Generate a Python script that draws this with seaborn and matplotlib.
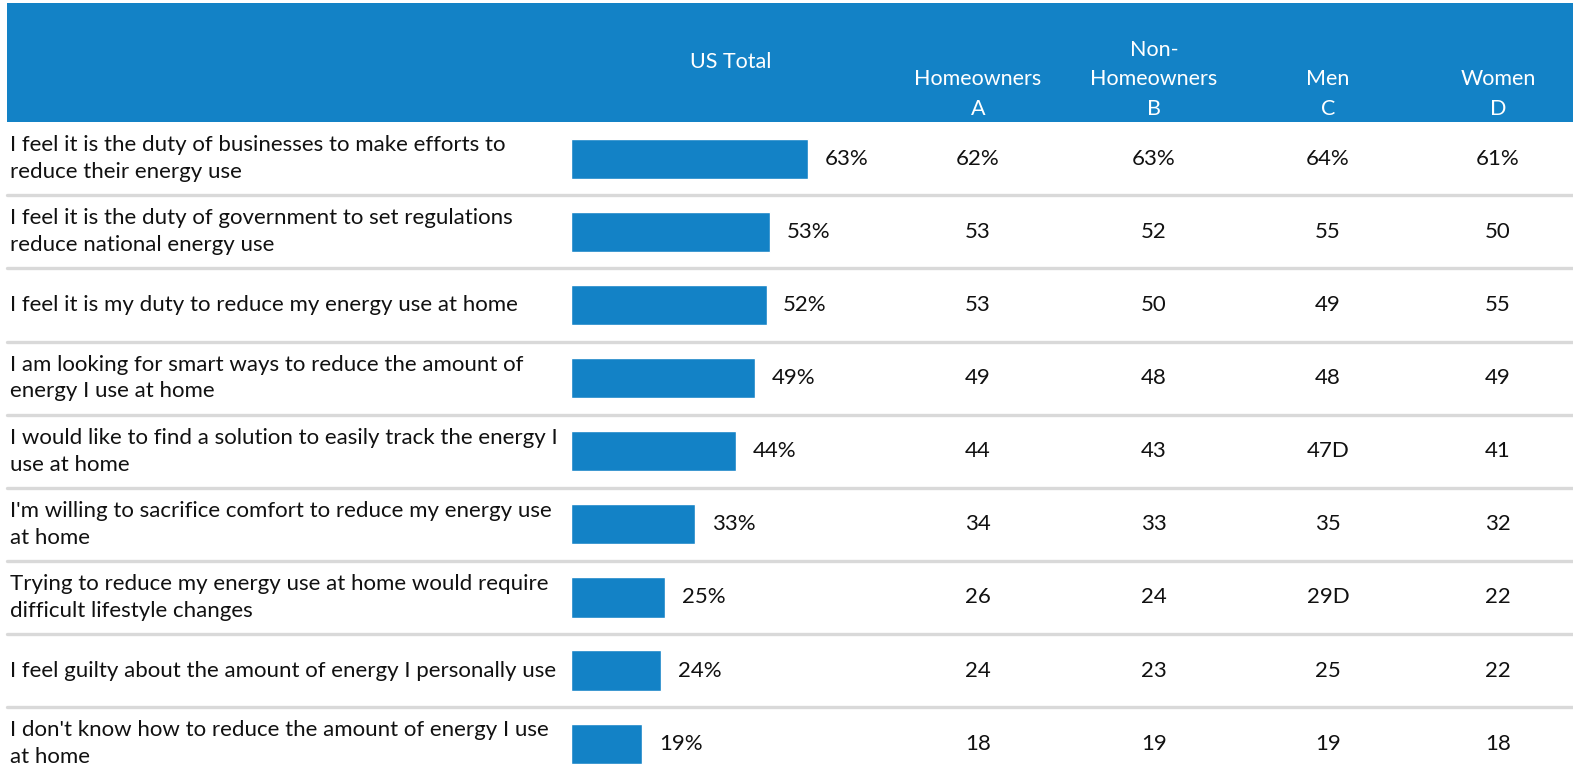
import numpy as np
import pandas as pd
import matplotlib
matplotlib.use("Agg")
import matplotlib.pyplot as plt
from matplotlib.patches import Rectangle
import seaborn as sns

statements = [
    "I feel it is the duty of businesses to make efforts to\nreduce their energy use",
    "I feel it is the duty of government to set regulations\nreduce national energy use",
    "I feel it is my duty to reduce my energy use at home",
    "I am looking for smart ways to reduce the amount of\nenergy I use at home",
    "I would like to find a solution to easily track the energy I\nuse at home",
    "I'm willing to sacrifice comfort to reduce my energy use\nat home",
    "Trying to reduce my energy use at home would require\ndifficult lifestyle changes",
    "I feel guilty about the amount of energy I personally use",
    "I don't know how to reduce the amount of energy I use\nat home",
]
us_total = [63, 53, 52, 49, 44, 33, 25, 24, 19]
homeowners = ["62%", "53", "53", "49", "44", "34", "26", "24", "18"]
non_homeowners = ["63%", "52", "50", "48", "43", "33", "24", "23", "19"]
men = ["64%", "55", "49", "48", "47D", "35", "29D", "25", "19"]
women = ["61%", "50", "55", "49", "41", "32", "22", "22", "18"]

col_headers = ["Homeowners\nA", "Non-\nHomeowners\nB", "Men\nC", "Women\nD"]
col_values = [homeowners, non_homeowners, men, women]

BLUE = "#1382C6"
GREY = "#D9D9D9"
W, H = 1573, 772

sns.set_theme(style="white")
plt.rcParams["font.family"] = ["Lato", "DejaVu Sans"]
FS = 16      # body text
FS_HEAD = 15.5

df = pd.DataFrame({"statement": statements, "us_total": us_total})

fig = plt.figure(figsize=(W / 100, H / 100), dpi=100)
fig.patch.set_facecolor("white")

# axes covers the full width, rows from y=120px to 778px
row_top, row_bot = 120, 778
ax = fig.add_axes([0, (H - row_bot) / H, 1, (row_bot - row_top) / H])
sns.barplot(data=df, x="us_total", y="statement", color=BLUE, saturation=1,
            width=0.55, ax=ax)
px = 3.76  # pixels per percent
bar_x0 = 571
ax.set_xlim(-bar_x0 / px, (W - bar_x0) / px)
ax.set_ylim(len(statements) - 0.5 - 0.03, -0.5 - 0.03)
ax.set_axis_off()

ax.bar_label(ax.containers[0], labels=[f"{v}%" for v in us_total],
             padding=12, fontsize=FS, color="#111111")

tr = ax.get_yaxis_transform()
for i, s in enumerate(statements):
    ax.text(10 / W, i, s, transform=tr, ha="left", va="center",
            fontsize=FS, color="#111111", linespacing=1.42)
    if i < len(statements) - 1:
        ax.axhline(i + 0.5, xmin=7 / W, xmax=1, color=GREY, lw=2.4)

col_x = [978, 1154, 1328, 1498]
for cx, vals in zip(col_x, col_values):
    for i, v in enumerate(vals):
        ax.text(cx / W, i, v, transform=tr, ha="center", va="center",
                fontsize=FS, color="#111111")

# header band
fig.add_artist(Rectangle((7 / W, 1 - 122 / H), 1 - 7 / W, 119 / H,
                         transform=fig.transFigure, color=BLUE, lw=0))
fig.text(731 / W, 1 - 62 / H, "US Total", ha="center", va="center",
         fontsize=FS_HEAD, color="white")
for cx, h in zip(col_x, col_headers):
    fig.text(cx / W, 1 - 119 / H, h, ha="center", va="bottom",
             fontsize=FS_HEAD, color="white", linespacing=1.6)

fig.savefig("out.png", dpi=100)
